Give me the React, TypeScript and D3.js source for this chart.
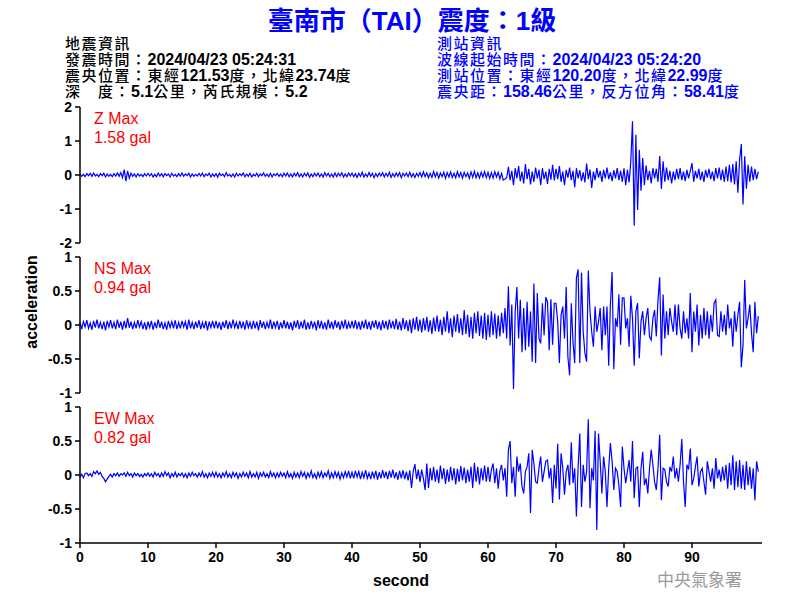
import React from 'react';
import * as d3 from 'd3';

const SAMPLE_STEP = 0.25; // seconds between samples

const xTicks = [0, 10, 20, 30, 40, 50, 60, 70, 80, 90];
const zTicks = [2, 1, 0, -1, -2];
const hTicks = [1, 0.5, 0, -0.5, -1];

const titleText = '臺南市（TAI）震度：1級';
const quakeInfo = ['地震資訊', '發震時間：2024/04/23 05:24:31', '震央位置：東經121.53度，北緯23.74度', '深　度：5.1公里，芮氏規模：5.2'];
const stationInfo = ['測站資訊', '波線起始時間：2024/04/23 05:24:20', '測站位置：東經120.20度，北緯22.99度', '震央距：158.46公里，反方位角：58.41度'];

const zValues = [
  0.03,-0.04,0.02,-0.05,0.04,-0.02,0.05,-0.04,0.06,-0.03, 0.02,-0.05,0.04,-0.02,0.05,-0.06,0.03,-0.04,0.02,-0.05, 0.04,-0.03,0.06,-0.04,0.07,-0.08,0.16,-0.18,0.12,-0.09, 0.05,-0.04,0.03,-0.06,0.04,-0.03,0.02,-0.05,0.04,-0.03,
  0.05,-0.03,0.04,-0.06,0.02,-0.05,0.06,-0.03,0.04,-0.05, 0.04,-0.02,0.03,-0.06,0.05,-0.03,0.02,-0.05,0.04,-0.03, 0.06,-0.04,0.03,-0.02,0.05,-0.06,0.03,-0.04,0.02,-0.03, 0.05,-0.03,0.06,-0.05,0.03,-0.02,0.05,-0.06,0.03,-0.04,
  0.04,-0.06,0.05,-0.02,0.03,-0.05,0.07,-0.03,0.02,-0.05, 0.03,-0.06,0.05,-0.03,0.04,-0.02,0.06,-0.05,0.03,-0.04, 0.05,-0.06,0.02,-0.03,0.05,-0.05,0.03,-0.02,0.06,-0.04, 0.03,-0.05,0.05,-0.06,0.03,-0.02,0.05,-0.04,0.03,-0.05,
  0.05,-0.03,0.06,-0.05,0.03,-0.06,0.05,-0.03,0.07,-0.05, 0.03,-0.06,0.05,-0.03,0.06,-0.07,0.03,-0.05,0.05,-0.03, 0.06,-0.05,0.03,-0.06,0.07,-0.03,0.05,-0.05,0.03,-0.06, 0.06,-0.05,0.05,-0.03,0.07,-0.06,0.03,-0.05,0.06,-0.03,
  0.06,-0.05,0.04,-0.07,0.05,-0.04,0.08,-0.06,0.03,-0.05, 0.07,-0.04,0.05,-0.08,0.04,-0.05,0.06,-0.03,0.07,-0.06, 0.05,-0.04,0.08,-0.07,0.04,-0.05,0.06,-0.04,0.07,-0.08, 0.05,-0.03,0.06,-0.05,0.08,-0.06,0.04,-0.07,0.05,-0.04,
  0.07,-0.06,0.09,-0.05,0.06,-0.08,0.05,-0.07,0.1,-0.06, 0.07,-0.09,0.06,-0.05,0.08,-0.1,0.07,-0.06,0.09,-0.07, 0.05,-0.08,0.1,-0.06,0.07,-0.09,0.08,-0.05,0.06,-0.1, 0.09,-0.07,0.11,-0.08,0.06,-0.09,0.08,-0.06,0.1,-0.08,
  0.08,-0.1,0.07,-0.09,0.1,-0.06,0.08,-0.12,0.05,-0.15, -0.12,-0.08,0.24,-0.15,0.12,-0.3,0.2,-0.1,0.26,-0.18, 0.1,-0.25,0.32,-0.12,0.18,-0.28,0.1,-0.2,0.22,-0.1, 0.15,-0.3,0.2,-0.12,0.1,-0.26,0.18,-0.14,0.3,-0.16,
  0.18,-0.12,0.26,-0.2,0.1,-0.3,0.15,-0.08,0.22,-0.15, 0.12,-0.36,0.2,-0.1,0.14,-0.18,0.08,-0.22,0.34,-0.12, 0.16,-0.38,0.1,-0.15,0.2,-0.08,0.12,-0.2,0.15,-0.1, 0.22,-0.12,0.08,-0.18,0.14,-0.1,0.2,-0.15,0.12,-0.2,
  0.2,-0.3,0.15,-0.22,0.4,1.58,-1.49,1.18,-1.03,0.74, -0.46,0.5,-0.3,0.28,-0.15,0.12,-0.25,0.2,-0.1,0.18, -0.2,0.56,-0.41,0.4,-0.2,0.22,-0.15,0.12,-0.25,0.1, -0.15,0.18,-0.12,0.2,-0.15,0.1,-0.18,0.15,-0.1,0.12,
  0.35,-0.2,0.12,-0.1,0.18,-0.15,0.1,-0.2,0.15,-0.08, 0.18,-0.12,0.1,-0.18,0.2,-0.1,0.22,-0.15,0.16,-0.2, 0.25,-0.18,0.3,-0.22,0.32,-0.28,0.4,-0.52,0.45,0.91, -0.87,0.55,-0.4,0.3,-0.2,0.25,-0.15,0.18,-0.12,0.1,
];

const nsValues = [
  0.04,-0.06,0.05,-0.03,0.07,-0.05,0.03,-0.07,0.06,-0.04, 0.08,-0.05,0.04,-0.06,0.05,-0.08,0.06,-0.03,0.07,-0.05, 0.04,-0.06,0.08,-0.04,0.05,-0.07,0.06,-0.05,0.1,-0.04, 0.05,-0.06,0.04,-0.05,0.07,-0.03,0.05,-0.06,0.04,-0.07,
  0.05,-0.04,0.06,-0.07,0.04,-0.05,0.08,-0.04,0.05,-0.06, 0.03,-0.07,0.06,-0.04,0.05,-0.05,0.07,-0.06,0.04,-0.05, 0.06,-0.03,0.05,-0.07,0.08,-0.05,0.04,-0.06,0.05,-0.04, 0.07,-0.06,0.04,-0.05,0.06,-0.08,0.05,-0.04,0.06,-0.05,
  0.06,-0.05,0.04,-0.07,0.05,-0.04,0.07,-0.06,0.05,-0.05, 0.08,-0.04,0.04,-0.06,0.06,-0.05,0.05,-0.07,0.07,-0.04, 0.04,-0.06,0.06,-0.05,0.05,-0.08,0.07,-0.04,0.05,-0.06, 0.04,-0.05,0.08,-0.06,0.05,-0.04,0.06,-0.07,0.04,-0.05,
  0.07,-0.05,0.05,-0.06,0.04,-0.08,0.06,-0.04,0.07,-0.06, 0.05,-0.05,0.08,-0.07,0.04,-0.06,0.06,-0.04,0.05,-0.08, 0.07,-0.05,0.06,-0.06,0.04,-0.07,0.08,-0.05,0.05,-0.06, 0.07,-0.04,0.05,-0.07,0.06,-0.05,0.08,-0.06,0.04,-0.05,
  0.06,-0.05,0.07,-0.06,0.05,-0.07,0.06,-0.05,0.08,-0.06, 0.05,-0.07,0.06,-0.04,0.07,-0.06,0.05,-0.08,0.07,-0.05, 0.06,-0.07,0.08,-0.05,0.06,-0.06,0.09,-0.07,0.05,-0.08, 0.1,-0.06,0.07,-0.09,0.08,-0.12,0.1,-0.07,0.12,-0.09,
  0.08,-0.11,0.1,-0.08,0.12,-0.1,0.07,-0.13,0.11,-0.09, 0.14,-0.1,0.08,-0.15,0.12,-0.1,0.2,-0.12,0.1,-0.18, 0.14,-0.1,0.16,-0.12,0.1,-0.15,0.22,-0.13,0.15,-0.18, 0.12,-0.2,0.18,-0.12,0.2,-0.16,0.14,-0.2,0.18,-0.22,
  0.15,-0.18,0.2,-0.15,0.17,-0.2,0.14,-0.17,0.18,-0.12, 0.25,-0.2,0.57,-0.3,0.3,-0.94,0.2,0.56,-0.2,0.37, -0.4,0.25,-0.37,0.34,-0.32,0.2,-0.54,0.61,-0.56,0.47, -0.2,-0.27,0.32,-0.15,0.41,0.34,-0.37,0.38,-0.29,0.32,
  0.32,0.05,-0.56,0.15,0.27,-0.2,0.56,-0.47,-0.74,0.32, -0.25,-0.56,0.69,0.82,-0.56,0.77,-0.1,-0.41,-0.54,0.8, 0.2,-0.1,-0.32,0.27,-0.1,0.05,0.25,-0.37,0.27,-0.15, 0.27,-0.6,0.3,0.78,-0.65,0.1,-0.03,0.45,-0.29,0.4,
  0.4,-0.05,0.1,-0.32,0.43,0.1,-0.6,0.2,0.32,-0.49, 0.05,0.2,-0.15,0.1,0.25,-0.17,-0.22,0.1,0.22,-0.17, 0.37,0.7,-0.45,0.45,-0.2,0.2,-0.15,0.25,0.05,-0.1, 0.3,-0.15,0.3,-0.05,-0.2,0.2,-0.12,0.1,-0.2,0.47,
  -0.4,0.2,-0.1,0.3,-0.3,0.15,-0.2,0.25,-0.15,0.2, -0.2,0.15,-0.1,0.32,0.37,-0.15,-0.17,0.2,-0.1,0.15, -0.15,0.3,-0.05,0.1,-0.32,0.2,-0.1,0.15,0.34,-0.62, -0.3,0.66,-0.05,0.1,0.3,-0.12,-0.4,0.34,-0.12,0.13,
];

const ewValues = [
  -0.03,0.01,-0.04,0.02,0.03,-0.01,0.02,-0.02,0.05,0.02, 0.06,0.01,0.04,-0.02,-0.05,-0.1,-0.06,-0.02,0.01,-0.03, 0.02,-0.01,0.03,-0.02,0.02,0.0,0.03,-0.02,0.04,-0.01, 0.02,-0.03,0.03,-0.01,0.02,-0.02,0.01,-0.03,0.02,-0.01,
  0.03,-0.02,0.02,-0.03,0.04,-0.01,0.02,-0.03,0.03,-0.02, 0.05,-0.01,0.03,-0.04,0.02,-0.02,0.04,-0.03,0.02,-0.01, 0.03,-0.03,0.02,-0.04,0.03,-0.02,0.04,-0.01,0.02,-0.03, 0.03,-0.02,0.05,-0.03,0.02,-0.04,0.03,-0.02,0.04,-0.03,
  0.04,-0.03,0.02,-0.04,0.03,-0.02,0.05,-0.03,0.02,-0.04, 0.04,-0.02,0.03,-0.05,0.02,-0.03,0.04,-0.02,0.03,-0.04, 0.05,-0.03,0.02,-0.03,0.04,-0.05,0.03,-0.02,0.04,-0.03, 0.02,-0.04,0.05,-0.02,0.03,-0.04,0.03,-0.03,0.04,-0.02,
  0.03,-0.04,0.05,-0.03,0.02,-0.05,0.04,-0.03,0.03,-0.04, 0.05,-0.02,0.04,-0.05,0.03,-0.03,0.06,-0.04,0.02,-0.05, 0.04,-0.03,0.05,-0.04,0.03,-0.02,0.06,-0.05,0.03,-0.04, 0.05,-0.03,0.04,-0.06,0.03,-0.04,0.05,-0.03,0.06,-0.05,
  0.04,-0.05,0.06,-0.03,0.05,-0.06,0.04,-0.04,0.07,-0.05, 0.03,-0.06,0.05,-0.04,0.06,-0.07,0.04,-0.05,0.07,-0.04, 0.05,-0.06,0.06,-0.04,0.08,-0.05,0.04,-0.07,0.06,-0.05, 0.07,-0.06,0.05,-0.08,0.07,-0.19,0.05,0.16,-0.06,0.08,
  -0.1,0.08,-0.05,-0.22,0.17,-0.19,0.1,-0.08,0.12,-0.1, 0.08,-0.12,0.14,-0.06,0.1,-0.13,0.08,-0.1,0.12,-0.08, 0.1,-0.14,0.09,-0.1,0.13,-0.08,0.11,-0.12,0.08,-0.1, 0.12,-0.19,0.18,-0.1,0.12,-0.14,0.1,-0.08,0.14,-0.1,
  0.12,-0.1,0.08,0.17,-0.12,0.1,-0.2,0.06,0.15,-0.08, 0.1,-0.32,0.37,0.5,-0.12,0.12,-0.32,0.27,0.05,0.17, -0.17,-0.27,0.05,0.12,0.32,-0.56,0.37,0.17,-0.1,-0.12, 0.1,0.27,-0.1,0.05,0.2,0.22,-0.05,0.1,-0.41,0.15,
  -0.2,0.46,-0.36,0.32,0.1,-0.29,0.05,0.15,-0.15,0.48, -0.12,0.1,-0.61,0.12,0.61,-0.47,0.15,-0.1,0.05,0.82, -0.49,0.1,-0.08,0.65,-0.81,0.61,0.2,-0.27,0.27,0.05, -0.47,0.1,0.47,0.2,-0.22,0.1,0.05,-0.15,-0.47,0.42,
  0.1,-0.12,0.05,0.22,-0.1,0.5,-0.34,0.1,0.12,-0.47, 0.1,0.34,-0.15,-0.05,-0.27,0.1,0.37,0.15,-0.1,-0.22, 0.1,0.59,-0.37,0.1,0.08,-0.1,-0.17,0.12,0.05,0.27, -0.05,0.1,-0.1,0.15,0.53,-0.1,-0.47,0.15,0.08,0.39,
  -0.15,-0.05,0.12,0.27,-0.17,0.05,0.1,-0.1,-0.29,0.2, 0.05,-0.1,0.1,-0.2,0.25,-0.05,0.08,-0.1,0.12,-0.08, 0.15,-0.2,0.18,-0.15,0.29,-0.22,0.2,-0.18,0.22,-0.2, 0.15,-0.22,0.2,-0.15,0.12,-0.2,0.1,-0.37,0.2,0.05,
];

const channelNames = ['Z Max', 'NS Max', 'EW Max'];
const channelMaxLabels = ['1.58 gal', '0.94 gal', '0.82 gal'];

const LATIN = '"Liberation Sans", Arial, sans-serif';
const CJK = '"Noto Sans CJK TC", sans-serif';

// split a mixed line into ASCII and CJK runs so each gets its own font
function runs(s: string) {
  const out: { t: string; ascii: boolean }[] = [];
  for (const ch of s) {
    const ascii = ch.charCodeAt(0) < 128;
    const last = out[out.length - 1];
    if (last && last.ascii === ascii) last.t += ch;
    else out.push({ t: ch, ascii });
  }
  return out;
}

function MixedText({ x, y, text, fill }: { x: number; y: number; text: string; fill: string }) {
  return (
    <text x={x} y={y} fill={fill} fontSize={16}>
      {runs(text).map((r, i) =>
        r.ascii ? (
          <tspan key={i} fontFamily={LATIN} fontWeight="bold">{r.t}</tspan>
        ) : (
          <tspan key={i} fontFamily={CJK} fontWeight={500} fontSize={15} letterSpacing={1.5}>{r.t}</tspan>
        )
      )}
    </text>
  );
}

export default function App() {
  const width = 800;
  const height = 600;
  const left = 80;
  const right = 760;
  const panelTops = [107, 257, 407];
  const panelH = 136;

  const x = d3.scaleLinear().domain([0, 100]).range([left, right]);

  const panels = [
    { values: zValues, domain: [-2, 2], ticks: zTicks },
    { values: nsValues, domain: [-1, 1], ticks: hTicks },
    { values: ewValues, domain: [-1, 1], ticks: hTicks },
  ];

  const bottom = panelTops[2] + panelH;

  return (
    <svg width={width} height={height} style={{ position: 'absolute', left: 0, top: 0, background: '#fff' }}>
      <rect x={0} y={0} width={width} height={height} fill="#fff" />
      <text x={412} y={30} textAnchor="middle" fill="#0000ff" fontSize={26} fontWeight="bold">
        {runs(titleText).map((r, i) => (
          <tspan key={i} fontFamily={r.ascii ? LATIN : CJK}>{r.t}</tspan>
        ))}
      </text>
      {quakeInfo.map((t, i) => (
        <MixedText key={'q' + i} x={65} y={49 + i * 16} text={t} fill="#000" />
      ))}
      {stationInfo.map((t, i) => (
        <MixedText key={'s' + i} x={437} y={49 + i * 16} text={t} fill="#0000ff" />
      ))}

      {panels.map((p, k) => {
        const top = panelTops[k];
        const y = d3.scaleLinear().domain(p.domain).range([top + panelH, top]);
        const line = d3.line<number>()
          .x((_, i) => x(i * SAMPLE_STEP))
          .y((d) => y(d))
          .curve(d3.curveLinear);
        return (
          <g key={'p' + k}>
            <path d={line(p.values) || ''} fill="none" stroke="#0000ff" strokeWidth={1.2} />
            <line x1={left} x2={left} y1={top} y2={top + panelH} stroke="#000" strokeWidth={1.5} />
            {p.ticks.map((t) => (
              <g key={t}>
                <line x1={left - 5} x2={left} y1={y(t)} y2={y(t)} stroke="#000" strokeWidth={1.5} />
                <text x={72} y={y(t) + 5} textAnchor="end" fontSize={14} fontWeight="bold" fontFamily={LATIN} fill="#000">{String(t)}</text>
              </g>
            ))}
            <text x={94} y={top + 17} fontSize={16} fill="#ff0000" fontFamily={LATIN}>{channelNames[k]}</text>
            <text x={94} y={top + 36} fontSize={16} fill="#ff0000" fontFamily={LATIN}>{channelMaxLabels[k]}</text>
          </g>
        );
      })}

      <line x1={left} x2={762} y1={bottom} y2={bottom} stroke="#000" strokeWidth={1.5} />
      {xTicks.map((t) => (
        <g key={'x' + t}>
          <line x1={x(t)} x2={x(t)} y1={bottom} y2={bottom + 5} stroke="#000" strokeWidth={1.5} />
          <text x={x(t)} y={bottom + 19} textAnchor="middle" fontSize={14} fontWeight="bold" fontFamily={LATIN} fill="#000">{String(t)}</text>
        </g>
      ))}
      <text x={401} y={586} textAnchor="middle" fontSize={16} fontWeight="bold" fontFamily={LATIN} fill="#000">second</text>
      <text transform="translate(37,302) rotate(-90)" textAnchor="middle" fontSize={16} fontWeight="bold" fontFamily={LATIN} fill="#000">acceleration</text>
      <text x={657} y={586} fontSize={17} fill="#999" fontFamily={CJK}>中央氣象署</text>
    </svg>
  );
}
